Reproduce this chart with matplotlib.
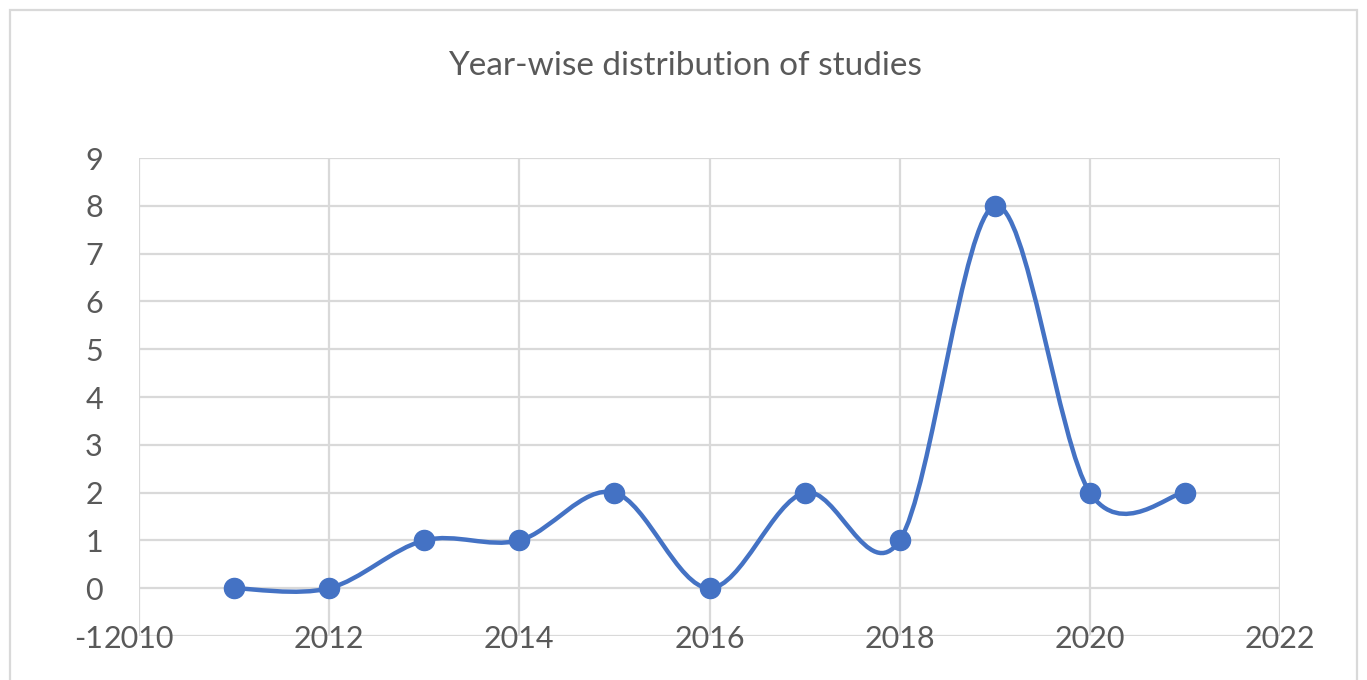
import numpy as np
import matplotlib.pyplot as plt
from matplotlib.path import Path
from matplotlib.patches import PathPatch, Rectangle

years = [2011, 2012, 2013, 2014, 2015, 2016, 2017, 2018, 2019, 2020, 2021]
studies = [0, 0, 1, 1, 2, 0, 2, 1, 8, 2, 2]
x_ticks = [2010, 2012, 2014, 2016, 2018, 2020, 2022]
y_ticks = [-1, 0, 1, 2, 3, 4, 5, 6, 7, 8, 9]

blue = '#4472C4'
grey_txt = '#595959'
grid_c = '#D9D9D9'

plt.rcParams['font.family'] = ['Lato', 'DejaVu Sans']
plt.rcParams['axes.unicode_minus'] = False

fig = plt.figure(figsize=(13.67, 6.8), dpi=100)
ax = fig.add_axes([0.1017, 0.0647, 0.8347, 0.7029])

# outer chart border
fig.patches.append(Rectangle((10 / 1367, -0.05), 1347 / 1367, 1.05 - 10 / 680,
                             transform=fig.transFigure, fill=False,
                             edgecolor=grid_c, linewidth=1.6))

ax.set_xlim(2010, 2022)
ax.set_ylim(-1, 9)
ax.set_xticks(x_ticks)
ax.set_yticks(y_ticks)
ax.set_xticklabels([])
ax.tick_params(length=0)
ax.tick_params(axis='y', pad=26, labelsize=22, labelcolor=grey_txt)
for s in ax.spines.values():
    s.set_visible(False)
ax.grid(True, color=grid_c, linewidth=1.6)
ax.set_axisbelow(True)

# year labels sit on the bottom gridline
for xt in x_ticks:
    ax.text(xt, -1, str(xt), ha='center', va='center_baseline',
            fontsize=22, color=grey_txt)

# smoothed line through the points (Catmull-Rom as cubic Bezier)
P = np.column_stack([years, studies]).astype(float)
n = len(P)
verts = [P[0]]
codes = [Path.MOVETO]
for i in range(n - 1):
    p0 = P[i - 1] if i > 0 else P[i]
    p1 = P[i]
    p2 = P[i + 1]
    p3 = P[i + 2] if i + 2 < n else P[i + 1]
    verts += [p1 + (p2 - p0) / 6, p2 - (p3 - p1) / 6, p2]
    codes += [Path.CURVE4] * 3
ax.add_patch(PathPatch(Path(verts, codes), fill=False, edgecolor=blue,
                       linewidth=3.2, capstyle='round', joinstyle='round'))
ax.plot(years, studies, 'o', color=blue, markersize=14.5, zorder=3)

fig.text(0.501, 0.903, 'Year-wise distribution of studies', ha='center',
         va='center', fontsize=24, color=grey_txt)

fig.savefig('out.png', dpi=100)
